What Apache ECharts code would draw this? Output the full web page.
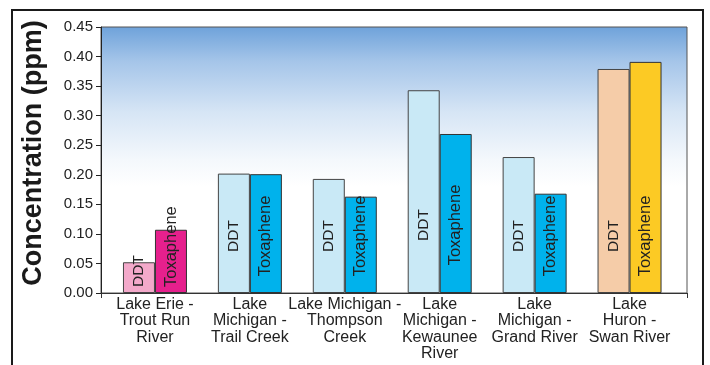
<!DOCTYPE html>
<html>
<head>
<meta charset="utf-8">
<script src="https://cdn.jsdelivr.net/npm/echarts@6/dist/echarts.min.js"></script>
<style>
  html, body { margin: 0; padding: 0; background: #ffffff; }
  #chart { width: 710px; height: 365px; }
</style>
</head>
<body>
<div id="chart"></div>
<script>
// Sampling sites (one group of two bars per site)
const categories = [
  'Lake Erie -\nTrout Run\nRiver',
  'Lake\nMichigan -\nTrail Creek',
  'Lake Michigan -\nThompson\nCreek',
  'Lake\nMichigan -\nKewaunee\nRiver',
  'Lake\nMichigan -\nGrand River',
  'Lake\nHuron -\nSwan River'
];

// Concentrations in ppm
const ddtValues = [0.052, 0.202, 0.193, 0.343, 0.230, 0.379];
const toxapheneValues = [0.107, 0.201, 0.163, 0.269, 0.168, 0.391];

// Fill colours per site (lake-specific palette)
const ddtColors = ['#f3a9ca', '#c9e9f6', '#c9e9f6', '#c9e9f6', '#c9e9f6', '#f5cca8'];
const toxapheneColors = ['#e6208d', '#00b2ec', '#00b2ec', '#00b2ec', '#00b2ec', '#fcca24'];

// Y axis ticks
const yMin = 0, yMax = 0.45, yStep = 0.05;

// Bar-label offsets from the baseline (px); short bars get their label at the foot
const labelDistance = [6, 57, 57, 68, 57, 57];
const labelAlign = ['left', 'center', 'center', 'center', 'center', 'center'];

function buildData(values, colors) {
  return values.map((v, i) => ({
    value: v,
    itemStyle: { color: colors[i] },
    label: { distance: labelDistance[i], align: labelAlign[i] }
  }));
}

const chart = echarts.init(document.getElementById('chart'), null, { renderer: 'canvas' });

const barLabel = (size) => ({
  show: true,
  formatter: '{a}',
  position: 'insideBottom',
  rotate: 90,
  verticalAlign: 'middle',
  color: '#222',
  fontFamily: 'Liberation Sans, Arial, sans-serif',
  fontSize: size
});

const option = {
  animation: false,
  textStyle: { fontFamily: 'Liberation Sans, Arial, sans-serif' },
  grid: [
    {
      // plot frame with sky gradient
      left: 101, right: 23, top: 27, bottom: 72,
      show: true,
      borderColor: '#555',
      borderWidth: 1,
      backgroundColor: {
        type: 'linear', x: 0, y: 0, x2: 0, y2: 1,
        colorStops: [
          { offset: 0, color: '#6ea2da' },
          { offset: 0.13, color: '#a5c5e9' },
          { offset: 0.32, color: '#d6e5f5' },
          { offset: 0.5, color: '#f4f8fc' },
          { offset: 0.6, color: '#ffffff' },
          { offset: 1, color: '#ffffff' }
        ]
      }
    },
    {
      // bar area, slightly inset from the frame
      left: 107.5, right: 33, top: 27, bottom: 72
    }
  ],
  xAxis: [
    {
      gridIndex: 0,
      type: 'category',
      data: [''],
      boundaryGap: true,
      axisLine: { lineStyle: { color: '#333', width: 1 } },
      axisTick: { show: true, length: 5, lineStyle: { color: '#333' } },
      axisLabel: { show: false }
    },
    {
      gridIndex: 1,
      type: 'category',
      data: categories,
      axisLine: { show: false },
      axisTick: { show: false },
      axisLabel: {
        interval: 0,
        margin: 3,
        color: '#222',
        fontSize: 16,
        lineHeight: 16.5,
        fontFamily: 'Liberation Sans, Arial, sans-serif'
      }
    }
  ],
  yAxis: [
    {
      gridIndex: 0,
      type: 'value',
      min: yMin, max: yMax, interval: yStep,
      axisLine: { show: true, lineStyle: { color: '#222', width: 1 } },
      axisTick: { show: true, length: 5, lineStyle: { color: '#222' } },
      splitLine: { show: false },
      axisLabel: {
        margin: 8,
        color: '#222',
        fontSize: 15,
        formatter: (v) => v.toFixed(2)
      }
    },
    {
      gridIndex: 1,
      type: 'value',
      min: yMin, max: yMax, interval: yStep,
      show: false
    }
  ],
  series: [
    {
      name: 'DDT',
      type: 'bar',
      xAxisIndex: 1, yAxisIndex: 1,
      barWidth: 32,
      barGap: '0%',
      itemStyle: { borderColor: '#444', borderWidth: 1 },
      label: barLabel(15.5),
      data: buildData(ddtValues, ddtColors)
    },
    {
      name: 'Toxaphene',
      type: 'bar',
      xAxisIndex: 1, yAxisIndex: 1,
      barWidth: 32,
      barGap: '0%',
      itemStyle: { borderColor: '#333', borderWidth: 1 },
      label: barLabel(16.5),
      data: buildData(toxapheneValues, toxapheneColors)
    }
  ],
  graphic: [
    {
      // outer panel border
      type: 'rect',
      shape: { x: 12, y: 10, width: 691, height: 400 },
      style: { fill: 'none', stroke: '#1a1a1a', lineWidth: 2 },
      silent: true
    },
    {
      type: 'text',
      x: 34, y: 153,
      rotation: Math.PI / 2,
      style: {
        text: 'Concentration (ppm)',
        font: 'bold 27px "Liberation Sans", Arial, sans-serif',
        fill: '#1a1a1a',
        textAlign: 'center',
        textVerticalAlign: 'middle'
      },
      silent: true
    }
  ]
};

chart.setOption(option);
</script>
</body>
</html>
